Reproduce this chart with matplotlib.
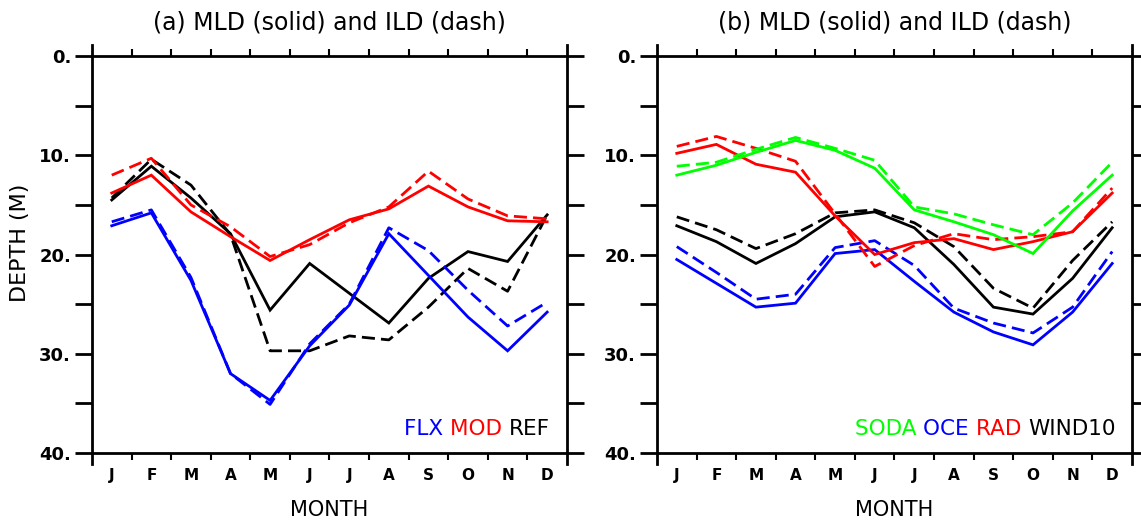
import matplotlib.pyplot as plt
import numpy as np

# ---------------------------------------------------------------------------
# data: monthly MLD (solid) and ILD (dash), metres
# ---------------------------------------------------------------------------
MONTHS = ['J', 'F', 'M', 'A', 'M', 'J', 'J', 'A', 'S', 'O', 'N', 'D']

# panel (a)
flx_mld = [17.1, 15.8, 22.6, 32.0, 34.7, 29.2, 25.1, 17.9, 22.1, 26.3, 29.7, 25.8]
flx_ild = [16.7, 15.5, 22.3, 32.0, 35.1, 29.0, 25.0, 17.3, 19.6, 23.6, 27.2, 24.8]
mod_mld = [13.8, 12.0, 15.7, 18.2, 20.6, 18.5, 16.5, 15.4, 13.1, 15.2, 16.6, 16.7]
mod_ild = [12.0, 10.3, 15.0, 17.2, 20.2, 19.0, 16.8, 15.2, 11.6, 14.4, 16.1, 16.4]
ref_mld = [14.5, 11.1, 14.3, 17.9, 25.6, 20.9, 23.9, 26.9, 22.4, 19.7, 20.7, 16.0]
ref_ild = [14.3, 10.4, 13.0, 18.0, 29.7, 29.7, 28.2, 28.6, 25.3, 21.4, 23.7, 16.0]

# panel (b)
soda_mld = [12.0, 11.0, 9.7, 8.5, 9.5, 11.3, 15.5, 16.7, 18.0, 19.9, 15.6, 12.0]
soda_ild = [11.1, 10.7, 9.4, 8.2, 9.3, 10.5, 15.2, 15.9, 17.0, 18.0, 14.8, 10.7]
oce_mld = [20.5, 22.9, 25.3, 24.9, 19.9, 19.5, 22.7, 25.8, 27.8, 29.1, 25.8, 20.9]
oce_ild = [19.2, 21.8, 24.5, 24.0, 19.3, 18.6, 21.1, 25.4, 26.9, 27.9, 25.3, 19.7]
rad_mld = [9.8, 8.9, 10.9, 11.7, 16.1, 20.0, 18.8, 18.4, 19.5, 18.7, 17.7, 13.8]
rad_ild = [9.1, 8.1, 9.3, 10.6, 15.9, 21.2, 19.1, 17.9, 18.5, 18.2, 17.7, 13.3]
wind_mld = [17.1, 18.7, 20.9, 18.9, 16.2, 15.7, 17.3, 21.0, 25.3, 26.0, 22.4, 17.3]
wind_ild = [16.2, 17.5, 19.4, 17.9, 15.8, 15.5, 16.8, 19.2, 23.4, 25.4, 20.6, 16.7]

BLUE, RED, GREEN, BLACK = '#0000ff', '#ff0000', '#00ff00', '#000000'
FONT = 'DejaVu Sans'
LW = 2.0
DASH = (4.7, 2.2)

fig = plt.figure(figsize=(11.41, 5.23), dpi=100)
ax_a = fig.add_axes([0.0806, 0.1338, 0.4163, 0.759])
ax_b = fig.add_axes([0.5758, 0.1338, 0.4163, 0.759])

x = np.arange(1, 13)


def style_axes(ax, title):
    ax.set_xlim(0.5, 12.5)
    ax.set_ylim(40, 0)
    ax.set_xticks(x)
    ax.set_xticklabels(MONTHS, fontsize=11, fontweight='bold', family=FONT)
    ax.tick_params(axis='x', which='major', length=0, pad=11)
    ax.set_xticks(np.arange(1.5, 12, 1), minor=True)
    ax.tick_params(axis='x', which='minor', length=5, width=1.5,
                   direction='out', top=True, bottom=True)
    ax.set_yticks(np.arange(0, 41, 5))
    ax.set_yticklabels(['0.' if v == 0 else (f'{v}.' if v % 10 == 0 else '')
                        for v in range(0, 41, 5)],
                       fontsize=13, fontweight='bold', family=FONT)
    ax.tick_params(axis='y', length=12, width=2, direction='out',
                   left=True, right=True, pad=3)
    for side in ['left', 'right', 'top', 'bottom']:
        ax.spines[side].set_linewidth(2)
    # frame lines stick out past the box like the original plot
    ax.spines['left'].set_bounds(41.1, -1.1)
    ax.spines['right'].set_bounds(41.1, -1.1)
    ax.set_xlabel('MONTH', fontsize=15, family=FONT, labelpad=12)
    ax.set_title(title, fontsize=17, family=FONT, pad=19)


def draw_pair(ax, mld, ild, color):
    ax.plot(x, mld, color=color, lw=LW, solid_joinstyle='miter')
    ax.plot(x, ild, color=color, lw=LW, dashes=DASH)


def label_row(ax, words, colors):
    # chain words right to left, ending at the lower right corner
    prev = ax.text(0.965, 0.035, words[-1], color=colors[-1], fontsize=15.5,
                   family=FONT, ha='right', va='bottom', transform=ax.transAxes)
    for w, c in zip(words[-2::-1], colors[-2::-1]):
        prev = ax.annotate(w + ' ', xy=(0, 0), xycoords=prev, ha='right',
                           va='bottom', color=c, fontsize=15.5, family=FONT)


# (a)
style_axes(ax_a, '(a) MLD (solid) and ILD (dash)')
draw_pair(ax_a, ref_mld, ref_ild, BLACK)
draw_pair(ax_a, flx_mld, flx_ild, BLUE)
draw_pair(ax_a, mod_mld, mod_ild, RED)
ax_a.set_ylabel('DEPTH (M)', fontsize=16, family=FONT)
ax_a.yaxis.set_label_coords(-0.13, 0.53)
label_row(ax_a, ['FLX', 'MOD', 'REF'], [BLUE, RED, BLACK])

# (b)
style_axes(ax_b, '(b) MLD (solid) and ILD (dash)')
draw_pair(ax_b, wind_mld, wind_ild, BLACK)
draw_pair(ax_b, oce_mld, oce_ild, BLUE)
draw_pair(ax_b, rad_mld, rad_ild, RED)
draw_pair(ax_b, soda_mld, soda_ild, GREEN)
label_row(ax_b, ['SODA', 'OCE', 'RAD', 'WIND10'], [GREEN, BLUE, RED, BLACK])

fig.savefig('out.png', dpi=100)
